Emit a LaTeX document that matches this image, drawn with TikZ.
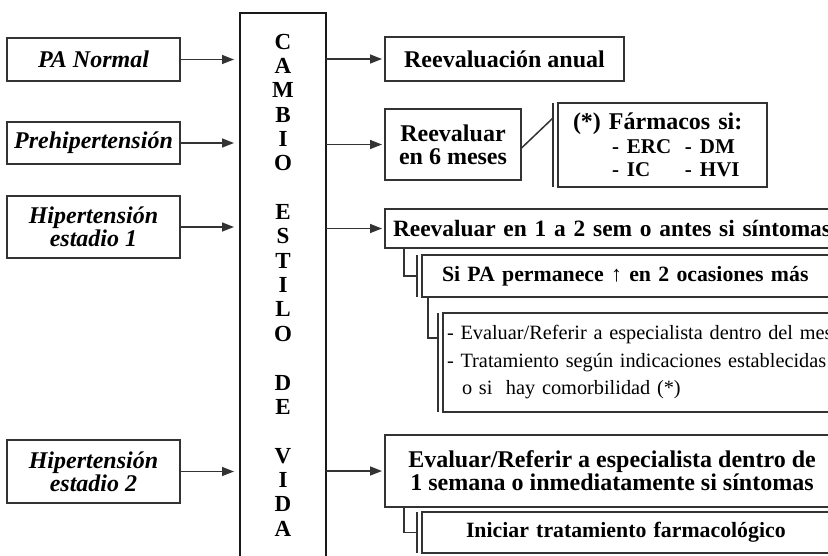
\documentclass[tikz,border=0pt]{standalone}
\usepackage{fontspec}
\setmainfont{Liberation Serif}
\newcommand*\bigSize{\fontsize{24}{23}\selectfont}
\newcommand*\rowSize{\fontsize{23.4}{23}\selectfont}
\newcommand*\midSize{\fontsize{21.8}{24}\selectfont}
\newcommand*\subSize{\fontsize{21}{24}\selectfont}
\newcommand*\listSize{\fontsize{20.3}{27.5}\selectfont}
\newcommand*\spineSize{\fontsize{23}{24.35}\selectfont}
\usetikzlibrary{arrows.meta}

\begin{document}
\begin{tikzpicture}[
		box/.style = { draw = black!80, line width = 1.5pt, text = black, inner sep = 0pt, outer sep = 0pt },
		stage/.style = { box, minimum width = 173*\oneUnit, align = center, font = \bigSize\bfseries\itshape },
		spine/.style = { box, draw = black!90, line width = 2.6pt, minimum width = 86*\oneUnit, minimum height = 544*\oneUnit, align = center, font = \spineSize\bfseries },
		outcome/.style = { box, align = center, font = \bigSize\bfseries },
		detail/.style = { box, anchor = west, align = left, font = \midSize\bfseries },
		link/.style = { draw = black!80, line width = 1.5pt },
		arrow/.style = { link, -{Triangle[length = 12pt, width = 9pt]} },
		]
		\def\oneUnit{1pt}
		
		\useasboundingbox (0,0) rectangle (828*\oneUnit,-555*\oneUnit);
		\clip (0,0) rectangle (828*\oneUnit,-555*\oneUnit);
		
		\node[stage, minimum height = 43*\oneUnit] (PAN) at (93.5*\oneUnit,-59.5*\oneUnit) {PA Normal};
		\node[stage, minimum height = 42*\oneUnit] (PREH) at (93.5*\oneUnit,-143*\oneUnit) {Prehipertensión};
		\node[stage, minimum height = 62*\oneUnit] (HTA1) at (93.5*\oneUnit,-227*\oneUnit) {Hipertensión\\estadio 1};
		\node[stage, minimum height = 63*\oneUnit] (HTA2) at (93.5*\oneUnit,-471.5*\oneUnit) {Hipertensión\\estadio 2};
		
		\node[spine] (CEV) at (283*\oneUnit,-285*\oneUnit) {C\\A\\M\\B\\I\\O\\[24.35pt]E\\S\\T\\I\\L\\O\\[24.35pt]D\\E\\[24.35pt]V\\I\\D\\A};
		
		\node[outcome, minimum width = 239*\oneUnit, minimum height = 44*\oneUnit] (RA) at (504.5*\oneUnit,-59*\oneUnit) {Reevaluación anual};
		\node[outcome, minimum width = 136*\oneUnit, minimum height = 71*\oneUnit] (R6) at (453*\oneUnit,-144.5*\oneUnit) {Reevaluar\\en 6 meses};
		\node[outcome, anchor = west, minimum height = 39*\oneUnit, text width = 460*\oneUnit, inner xsep = 8*\oneUnit, align = left, font = \rowSize\bfseries] (R12) at (385*\oneUnit,-228.5*\oneUnit) {Reevaluar en 1 a 2 sem o antes si síntomas};
		\node[outcome, minimum width = 454*\oneUnit, minimum height = 72*\oneUnit] (R2) at (612*\oneUnit,-471*\oneUnit) {Evaluar/Referir a especialista dentro de\\1 semana o inmediatamente si síntomas};
		
		\node[detail, minimum height = 84*\oneUnit, text width = 179*\oneUnit, inner xsep = 15*\oneUnit, font = \bigSize\bfseries] (FARM) at (558*\oneUnit,-145*\oneUnit) {(*) Fármacos si:\\\subSize\hspace*{39pt}\makebox[73pt][l]{- ERC}- DM\\\hspace*{39pt}\makebox[73pt][l]{- IC}- HVI};
		\node[detail, minimum height = 42*\oneUnit, text width = 440*\oneUnit, inner xsep = 20*\oneUnit] (SIPA) at (422*\oneUnit,-276*\oneUnit) {Si PA permanece ↑ en 2 ocasiones más};
		\node[detail, minimum height = 99*\oneUnit, text width = 440*\oneUnit, inner xsep = 4*\oneUnit, font = \listSize] (LIST) at (443*\oneUnit,-362.5*\oneUnit) {- Evaluar/Referir a especialista dentro del mes\\- Tratamiento según indicaciones establecidas\\\hspace*{15pt}o si\ \ hay comorbilidad (*)};
		\node[detail, minimum height = 41*\oneUnit, text width = 400*\oneUnit, inner xsep = 44*\oneUnit] (INI) at (422*\oneUnit,-532.5*\oneUnit) {Iniciar tratamiento farmacológico};
		
		% second line on the left of each detail box
		\draw[link] ([xshift=-5*\oneUnit]FARM.north west) -- ([xshift=-5*\oneUnit]FARM.south west);
		\draw[link] ([xshift=-5*\oneUnit]SIPA.north west) -- ([xshift=-5*\oneUnit]SIPA.south west);
		\draw[link] ([xshift=-5*\oneUnit]LIST.north west) -- ([xshift=-5*\oneUnit]LIST.south west);
		\draw[link] ([xshift=-5*\oneUnit]INI.north west) -- ([xshift=-5*\oneUnit]INI.south west);
		
		\path (PAN) edge [arrow, shorten > = 6pt] (PAN -| CEV.west);
		\path (PREH) edge [arrow, shorten > = 6pt] (PREH -| CEV.west);
		\path (HTA1) edge [arrow, shorten > = 6pt] (HTA1 -| CEV.west);
		\path (HTA2) edge [arrow, shorten > = 6pt] (HTA2 -| CEV.west);
		
		\path (CEV.east |- RA) edge [arrow, shorten > = 3pt] (RA);
		\path (CEV.east |- R6) edge [arrow, shorten > = 3pt] (R6);
		\path (CEV.east |- R12) edge [arrow, shorten > = 3pt] (R12);
		\path (CEV.east |- R2) edge [arrow, shorten > = 3pt] (R2);
		
		\path ([yshift=-4*\oneUnit]R6.east) edge [link] ([xshift=-5*\oneUnit, yshift=-15*\oneUnit]FARM.north west);
		\draw[link] ([xshift=19*\oneUnit]R12.south west) |- ([xshift=-5*\oneUnit]SIPA.west);
		\draw[link] ([xshift=6*\oneUnit]SIPA.south west) |- ([xshift=-5*\oneUnit, yshift=-25*\oneUnit]LIST.north west);
		\draw[link] ([xshift=19*\oneUnit]R2.south west) |- ([xshift=-5*\oneUnit]INI.west);
		
\end{tikzpicture}
\end{document}
